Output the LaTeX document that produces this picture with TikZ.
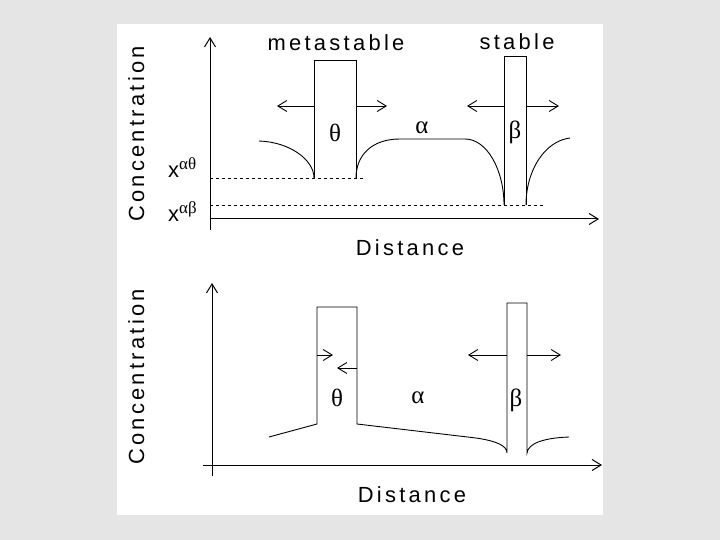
\documentclass[tikz,border=0pt]{standalone}
\usepackage{fontspec}
\setmainfont{Liberation Sans}[LetterSpace=15]
\newfontfamily\greekfont{Liberation Serif}
\usetikzlibrary{arrows.meta}
\definecolor{pagegray}{RGB}{229,229,229}
\tikzset{
    x=1bp,
    y=-1bp,
    axis/.style = {
        draw,
        line width=1bp,
        -{Straight Barb[length=9bp,width=11bp]}
    },
    flux/.style = {
        draw,
        line width=0.9bp,
        -{Straight Barb[length=9bp,width=11bp]}
    },
    profile/.style = {
        draw,
        line width=0.9bp
    },
    level/.style = {
        draw,
        line width=0.9bp,
        dash pattern=on 3bp off 3bp
    },
    word/.style = {
        inner sep=0pt,
        font=\fontsize{22}{24}\selectfont
    },
    phase/.style = {
        inner sep=0pt,
        font=\greekfont\fontsize{25}{27}\selectfont
    },
}
\newcommand{\eqlabel}[1]{x\raisebox{8bp}{\greekfont\fontsize{17}{18}\selectfont #1}}

\begin{document}
\begin{tikzpicture}
            \fill[pagegray] (0,0) rectangle (720,540);
            \fill[white] (117,24) rectangle (603,515);

            % upper panel: metastable theta and stable beta
            \coordinate (ya1) at (210,230);
            \coordinate (yb1) at (210,37);
            \coordinate (xa1) at (210,219);
            \coordinate (xb1) at (599,219);
            \path[axis] (ya1) -- (yb1);
            \path[axis] (xa1) -- (xb1);

            \node[word, rotate=90, anchor=base] (conc1) at (144,134) {Concentration};
            \node[word, anchor=base] (dist1) at (410,256) {Distance};
            \node[word, anchor=base] (meta) at (336,51) {metastable};
            \node[word, anchor=base] (stab) at (517,50) {stable};
            \node[word, anchor=base west] (xat) at (168,178) {\eqlabel{αθ}};
            \node[word, anchor=base west] (xab) at (168,222) {\eqlabel{αβ}};

            \coordinate (lt) at (365,178);
            \coordinate (lb) at (545,205);
            \path[level] (xa1 |- lt) -- (lt);
            \path[level] (xa1 |- lb) -- (lb);

            \coordinate (th1) at (314,178);
            \coordinate (th2) at (356,178);
            \coordinate (be1) at (504,205);
            \coordinate (be2) at (526,205);
            \path[profile] (th1) |- (356,60) -- (th2);
            \path[profile] (be1) |- (526,56) -- (be2);
            \path[profile] (259,141) .. controls (290,142) and (314,160) .. (th1);
            \path[profile] (th2) .. controls (356,155) and (372,139) .. (400,139)
                -- (465,139) .. controls (487,139) and (504,170) .. (be1);
            \path[profile] (be2) .. controls (526,170) and (545,141) .. (570,138);

            \coordinate (tha) at (277,106);
            \coordinate (thb) at (387,106);
            \coordinate (bea) at (467,106);
            \coordinate (beb) at (559,106);
            \path[flux] (th1 |- tha) -- (tha);
            \path[flux] (th2 |- thb) -- (thb);
            \path[flux] (be1 |- bea) -- (bea);
            \path[flux] (be2 |- beb) -- (beb);

            \node[phase] (theta1) at (335,133) {θ};
            \node[phase] (alpha1) at (422,128) {α};
            \node[phase] (beta1) at (515,132) {β};

            % lower panel: theta dissolving, beta growing
            \coordinate (ya2) at (212,476);
            \coordinate (yb2) at (212,283);
            \coordinate (xa2) at (203,465);
            \coordinate (xb2) at (602,465);
            \path[axis] (ya2) -- (yb2);
            \path[axis] (xa2) -- (xb2);

            \node[word, rotate=90, anchor=base] (conc2) at (144,377) {Concentration};
            \node[word, anchor=base] (dist2) at (412,502) {Distance};

            \coordinate (th3) at (317,424);
            \coordinate (th4) at (357,424);
            \coordinate (be3) at (507,453);
            \coordinate (be4) at (527,453);
            \path[profile] (269,437) -- (th3) |- (357,307) -- (th4)
                -- (476,438) .. controls (497,441) and (507,446) .. (be3)
                |- (527,303) -- (be4)
                .. controls (528,444) and (542,438) .. (569,437);

            \coordinate (thc) at (333,355);
            \coordinate (thd) at (337,368);
            \coordinate (bec) at (468,355);
            \coordinate (bed) at (561,355);
            \path[flux] (th3 |- thc) -- (thc);
            \path[flux] (th4 |- thd) -- (thd);
            \path[flux] (be3 |- bec) -- (bec);
            \path[flux] (be4 |- bed) -- (bed);

            \node[phase] (theta2) at (337,398) {θ};
            \node[phase] (alpha2) at (418,398) {α};
            \node[phase] (beta2) at (516,400) {β};
        \end{tikzpicture}
\end{document}
